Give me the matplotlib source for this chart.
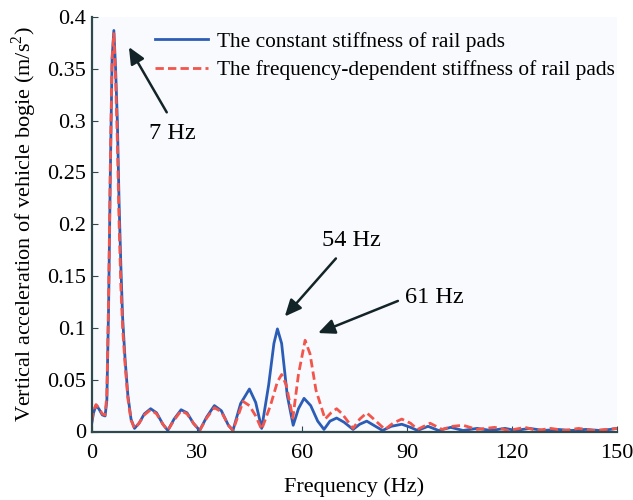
import matplotlib
matplotlib.use('Agg')
import matplotlib.pyplot as plt

# blue curve: constant stiffness
freq_const = [0, 0.5, 1.2, 2.0, 3.0, 3.8, 4.3, 4.8, 5.3, 5.8, 6.3, 6.8, 7.3, 7.8, 8.3, 8.8,
              9.5, 10.3, 11.2, 12.2, 13.5, 15.0, 16.8, 18.5, 20.3, 21.7, 23.5, 25.5, 27.2,
              29.0, 30.8, 32.8, 35.0, 37.0, 39.0, 40.3, 42.5, 45.0, 46.8, 48.5, 50.5, 52.0,
              53.0, 54.2, 55.8, 57.5, 59.0, 60.6, 62.5, 64.5, 66.3, 68.0, 69.9, 72.0, 74.6,
              76.5, 78.5, 80.5, 83.0, 85.5, 88.5, 91.0, 93.0, 96.0, 99.0, 102.5, 106.0,
              110.0, 114.0, 118.0, 121.0, 125.0, 129.0, 133.0, 137.0, 141.0, 145.0, 148.0, 150.0]
acc_const = [0.008, 0.018, 0.025, 0.022, 0.016, 0.015, 0.03, 0.12, 0.25, 0.36, 0.387, 0.35,
             0.30, 0.22, 0.16, 0.11, 0.07, 0.035, 0.012, 0.003, 0.008, 0.017, 0.022, 0.018,
             0.007, 0.001, 0.012, 0.021, 0.018, 0.008, 0.001, 0.014, 0.025, 0.02, 0.006, 0.001,
             0.027, 0.041, 0.028, 0.003, 0.045, 0.085, 0.099, 0.085, 0.035, 0.006, 0.022,
             0.032, 0.025, 0.01, 0.002, 0.01, 0.013, 0.009, 0.002, 0.007, 0.01, 0.006, 0.001,
             0.005, 0.007, 0.004, 0.001, 0.005, 0.001, 0.004, 0.001, 0.003, 0.001, 0.003,
             0.001, 0.003, 0.001, 0.002, 0.001, 0.002, 0.001, 0.002, 0.003]

# red curve: frequency-dependent stiffness
freq_fd = [0, 0.5, 1.2, 2.0, 3.0, 3.8, 4.3, 4.8, 5.3, 5.8, 6.3, 6.8, 7.3, 7.8, 8.3, 8.8,
           9.5, 10.3, 11.2, 12.2, 13.5, 15.0, 16.8, 18.5, 20.3, 21.7, 23.5, 25.5, 27.2,
           29.0, 30.8, 32.8, 35.0, 37.0, 39.0, 40.3, 43.2, 45.0, 46.8, 48.5, 51.0, 53.0,
           54.2, 55.5, 57.4, 59.0, 60.9, 62.3, 64.0, 66.6, 68.3, 69.9, 71.5, 74.6, 76.5,
           78.5, 80.5, 83.7, 86.0, 88.5, 91.0, 93.0, 96.6, 100.0, 103.0, 106.0, 110.0,
           115.0, 119.0, 123.7, 127.0, 131.0, 135.0, 139.0, 143.0, 147.0, 150.0]
acc_fd = [0.01, 0.02, 0.026, 0.023, 0.017, 0.016, 0.035, 0.13, 0.26, 0.36, 0.384, 0.34,
          0.28, 0.2, 0.14, 0.1, 0.065, 0.032, 0.011, 0.003, 0.008, 0.016, 0.021, 0.017,
          0.007, 0.001, 0.011, 0.02, 0.017, 0.008, 0.001, 0.013, 0.023, 0.019, 0.006, 0.001,
          0.029, 0.025, 0.015, 0.002, 0.025, 0.048, 0.055, 0.045, 0.013, 0.055, 0.088,
          0.075, 0.04, 0.012, 0.018, 0.022, 0.017, 0.003, 0.012, 0.018, 0.012, 0.002,
          0.008, 0.012, 0.008, 0.002, 0.008, 0.002, 0.005, 0.006, 0.002, 0.004, 0.001,
          0.004, 0.001, 0.003, 0.001, 0.003, 0.001, 0.002, 0.003]

x_ticks = [0, 30, 60, 90, 120, 150]
y_ticks = [0, 0.05, 0.1, 0.15, 0.2, 0.25, 0.3, 0.35, 0.4]
y_tick_labels = ['0', '0.05', '0.1', '0.15', '0.2', '0.25', '0.3', '0.35', '0.4']

# annotation text, text position, arrow tip, arrow tail
notes = [('7 Hz', (22.9, 0.288), (10.6, 0.371), (21.4, 0.308)),
         ('54 Hz', (74.0, 0.184), (55.1, 0.111), (69.7, 0.167)),
         ('61 Hz', (97.7, 0.129), (64.6, 0.095), (87.4, 0.126))]

plt.rcParams['font.family'] = ['Liberation Serif', 'DejaVu Serif']
plt.rcParams['mathtext.fontset'] = 'custom'
plt.rcParams['mathtext.rm'] = 'Liberation Serif'

fig = plt.figure(figsize=(6.33, 5), dpi=100)
ax = fig.add_axes([0.145, 0.137, 0.83, 0.829])
ax.set_facecolor('#f9fafd')

ax.plot(freq_const, acc_const, color='#2b5db6', lw=2, label='The constant stiffness of rail pads')
ax.plot(freq_fd, acc_fd, color='#f2554b', lw=2, ls=(0, (3, 1.5)),
        label='The frequency-dependent stiffness of rail pads')

for txt, tpos, tip, tail in notes:
    ax.annotate('', xy=tip, xytext=tail,
                arrowprops=dict(arrowstyle='-|>,head_length=1.0,head_width=0.45',
                                color='#122428', lw=1.8, shrinkA=0, shrinkB=0))
    ax.text(tpos[0], tpos[1], txt, fontsize=17.5, ha='center', va='center')

ax.set_xlim(0, 150)
ax.set_ylim(0, 0.4)
ax.set_xticks(x_ticks)
ax.set_yticks(y_ticks)
ax.set_yticklabels(y_tick_labels)
ax.tick_params(direction='in', labelsize=16, length=4, color='#2e4a4f')
ax.tick_params(axis='x', pad=9)
ax.tick_params(axis='y', pad=4)
for side in ['top', 'right']:
    ax.spines[side].set_visible(False)
for side in ['left', 'bottom']:
    ax.spines[side].set_color('#2e4a4f')
    ax.spines[side].set_linewidth(1.6)

ax.set_xlabel('Frequency (Hz)', fontsize=16, labelpad=10)
ax.set_ylabel('Vertical acceleration of vehicle bogie (m/s$^2$)', fontsize=16, labelpad=6)

ax.legend(loc='upper left', bbox_to_anchor=(0.1, 0.99), frameon=False, fontsize=15.4,
          handlelength=2.5, handletextpad=0.4, labelspacing=0.4, borderaxespad=0.1)

fig.savefig('out.png', dpi=100)
